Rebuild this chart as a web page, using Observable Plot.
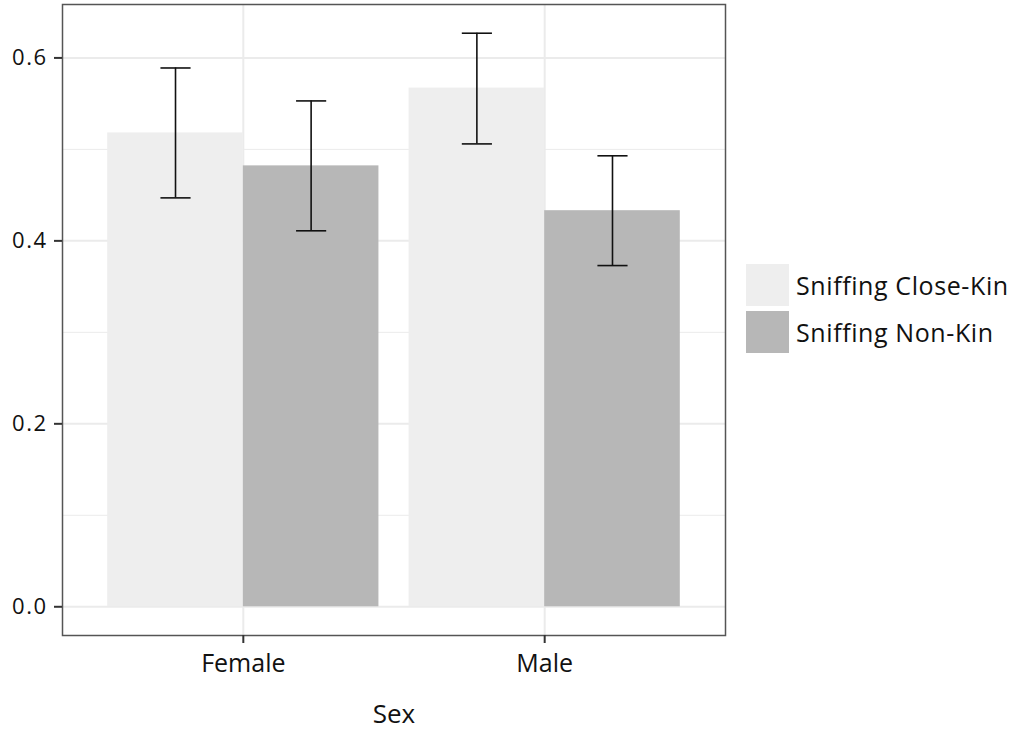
<!DOCTYPE html>
<html>
<head>
<meta charset="utf-8">
<script src="https://cdn.jsdelivr.net/npm/d3@7"></script>
<script src="https://cdn.jsdelivr.net/npm/@observablehq/plot@0.6"></script>
<style>
  html, body { margin: 0; padding: 0; background: #fff; }
  #wrap { position: relative; width: 1016px; height: 731px; font-family: "Open Sans", sans-serif; }
  #legend { position: absolute; left: 746px; top: 261px; }
  .item { display: flex; align-items: center; height: 47px; }
  .key { width: 43px; height: 42px; margin-right: 7px; }
  .lab { font-size: 25px; letter-spacing: 0.6px; color: #111; white-space: nowrap; }
  .yax text { letter-spacing: 1.5px; }
</style>
</head>
<body>
<div id="wrap"><div id="legend"></div></div>
<script>
// Data
const sexes = ["Female", "Male"];
const groups = ["Sniffing Close-Kin", "Sniffing Non-Kin"];
const closeKinMean = [0.518, 0.567];
const closeKinLow  = [0.447, 0.506];
const closeKinHigh = [0.589, 0.627];
const nonKinMean   = [0.482, 0.433];
const nonKinLow    = [0.411, 0.373];
const nonKinHigh   = [0.553, 0.493];
const yTicks = [0, 0.2, 0.4, 0.6];
const yMinor = [0.1, 0.3, 0.5];
const fills = ["#eeeeee", "#b7b7b7"];

const dodge = 0.45;
const rows = [];
sexes.forEach((s, i) => {
  [[closeKinMean, closeKinLow, closeKinHigh], [nonKinMean, nonKinLow, nonKinHigh]].forEach(([m, lo, hi], g) => {
    const x1 = i + 1 - dodge + g * dodge;
    rows.push({sex: s, group: groups[g], mean: m[i], low: lo[i], high: hi[i], x1, x2: x1 + dodge, xc: x1 + dodge / 2});
  });
});
const capHalf = 0.05;

const chart = Plot.plot({
  width: 1016,
  height: 731,
  marginLeft: 62,
  marginRight: 291,
  marginTop: 4,
  marginBottom: 96,
  style: {fontFamily: "Open Sans", fontSize: "21px", color: "#111", background: "#fff"},
  x: {domain: [0.4, 2.6]},
  y: {domain: [-0.0314, 0.6584]},
  color: {domain: groups, range: fills},
  marks: [
    Plot.ruleY(yMinor, {stroke: "#ebebeb", strokeWidth: 1}),
    Plot.ruleY(yTicks, {stroke: "#ebebeb", strokeWidth: 2}),
    Plot.ruleX([1, 2], {stroke: "#ebebeb", strokeWidth: 2}),
    Plot.rectY(rows, {x1: "x1", x2: "x2", y1: 0, y2: "mean", fill: "group"}),
    Plot.ruleX(rows, {x: "xc", y1: "low", y2: "high", stroke: "#111", strokeWidth: 1.6}),
    Plot.link(rows, {x1: d => d.xc - capHalf, x2: d => d.xc + capHalf, y1: "high", y2: "high", stroke: "#111", strokeWidth: 1.6}),
    Plot.link(rows, {x1: d => d.xc - capHalf, x2: d => d.xc + capHalf, y1: "low", y2: "low", stroke: "#111", strokeWidth: 1.6}),
    Plot.frame({stroke: "#555", strokeWidth: 1.5}),
    Plot.axisY({ticks: yTicks, tickFormat: d3.format(".1f"), tickSize: 8, tickPadding: 7, stroke: "#333", strokeWidth: 2, label: null, fontSize: 22, className: "yax"}),
    Plot.axisX({ticks: [1, 2], tickFormat: d => sexes[d - 1], tickSize: 8, tickPadding: 11, stroke: "#333", strokeWidth: 2, label: null, fontSize: 25}),
    Plot.text(["Sex"], {frameAnchor: "bottom", dy: 87, fontSize: 26, fill: "#111", lineAnchor: "bottom"})
  ]
});
document.getElementById("wrap").prepend(chart);

const legend = document.getElementById("legend");
groups.forEach((g, i) => {
  const item = document.createElement("div");
  item.className = "item";
  item.innerHTML = `<div class="key" style="background:${fills[i]}"></div><div class="lab">${g}</div>`;
  legend.appendChild(item);
});
</script>
</body>
</html>
